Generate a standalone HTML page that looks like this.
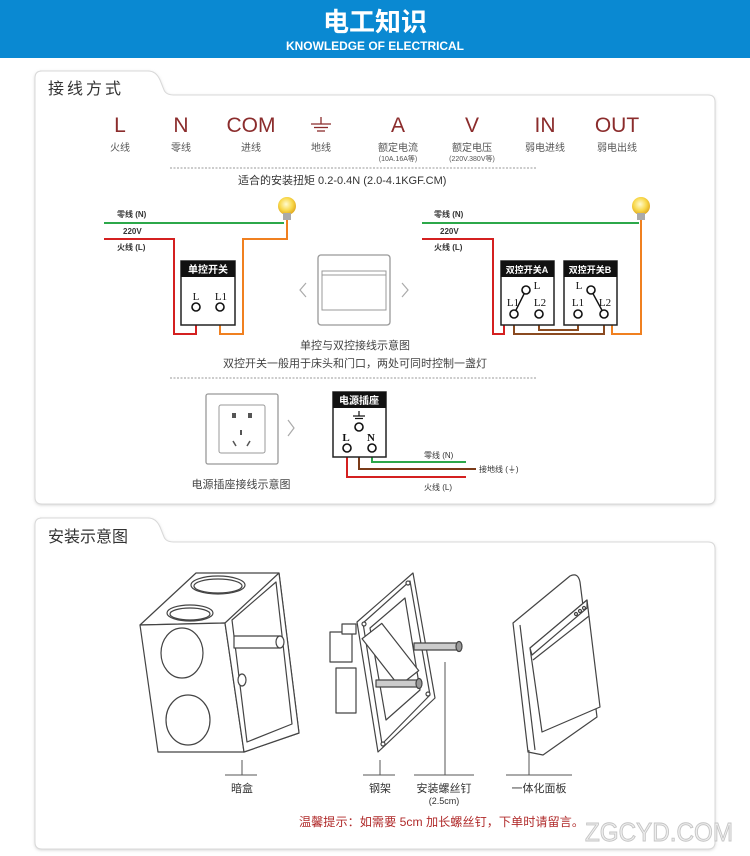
<!DOCTYPE html>
<html><head><meta charset="utf-8"><style>
html,body{margin:0;padding:0;background:#fff;}
svg{display:block;}
text{font-family:"Liberation Sans","Noto Sans CJK SC",sans-serif;}
</style></head><body>
<svg width="750" height="856" viewBox="0 0 750 856" xmlns="http://www.w3.org/2000/svg">
<defs>
<filter id="sh" x="-5%" y="-5%" width="110%" height="110%"><feGaussianBlur stdDeviation="1.5"/></filter>
<radialGradient id="bulb" cx="0.45" cy="0.4" r="0.6"><stop offset="0" stop-color="#fffbd0"/><stop offset="0.6" stop-color="#f8d84a"/><stop offset="1" stop-color="#e0a820"/></radialGradient>
</defs>
<rect x="0" y="0" width="750" height="58" fill="#0a89d2"/>
<text x="375" y="31" text-anchor="middle" font-size="26" font-weight="bold" fill="#fff">电工知识</text>
<text x="375" y="50" text-anchor="middle" font-size="12" font-weight="bold" fill="#fff" textLength="178" lengthAdjust="spacingAndGlyphs">KNOWLEDGE OF ELECTRICAL</text>

<path d="M40 71 H148 Q156 71 160 80 L164 90 Q166 95 174 95 H708 Q715 95 715 102 V497 Q715 504 708 504 H42 Q35 504 35 497 V78 Q35 71 42 71 Z" fill="#ccc" filter="url(#sh)" transform="translate(0,1)"/>
<path d="M40 71 H148 Q156 71 160 80 L164 90 Q166 95 174 95 H708 Q715 95 715 102 V497 Q715 504 708 504 H42 Q35 504 35 497 V78 Q35 71 42 71 Z" fill="#fff" stroke="#d8d8d8"/>
<text x="48" y="94" font-size="16" fill="#333" letter-spacing="3">接线方式</text>

<g fill="#8b2c2c" font-size="21" text-anchor="middle">
<text x="120" y="132">L</text><text x="181" y="132">N</text><text x="251" y="132">COM</text>
<text x="398" y="132">A</text><text x="472" y="132">V</text><text x="545" y="132">IN</text><text x="617" y="132">OUT</text>
</g>
<g stroke="#8b2c2c" stroke-width="1.3"><line x1="321" y1="117" x2="321" y2="124"/><line x1="311" y1="124" x2="331" y2="124"/><line x1="314" y1="127.5" x2="328" y2="127.5"/><line x1="317" y1="131" x2="325" y2="131"/></g>
<g fill="#555" font-size="10" text-anchor="middle">
<text x="120" y="151">火线</text><text x="181" y="151">零线</text><text x="251" y="151">进线</text><text x="321" y="151">地线</text>
<text x="398" y="151">额定电流</text><text x="472" y="151">额定电压</text><text x="545" y="151">弱电进线</text><text x="617" y="151">弱电出线</text>
<text x="398" y="161" font-size="7">(10A.16A等)</text><text x="472" y="161" font-size="7">(220V.380V等)</text>
</g>
<line x1="170" y1="168" x2="537" y2="168" stroke="#999" stroke-dasharray="2,1.5"/>
<text x="238" y="184" font-size="11" fill="#333">适合的安装扭矩 0.2-0.4N (2.0-4.1KGF.CM)</text>

<g font-size="8" fill="#333" font-weight="bold"><text x="117" y="217">零线 (N)</text><text x="123" y="234">220V</text><text x="117" y="250">火线 (L)</text></g>
<line x1="104" y1="223" x2="284" y2="223" stroke="#2ca84a" stroke-width="2"/>
<polyline points="104,239 174,239 174,334 196,334 196,311" fill="none" stroke="#d42020" stroke-width="2"/>
<polyline points="287,215 287,239 243,239 243,334 220,334 220,311" fill="none" stroke="#f08020" stroke-width="2"/>
<circle cx="287" cy="206" r="9" fill="url(#bulb)"/><rect x="283" y="213" width="8" height="7" fill="#aaa"/>
<rect x="181" y="261" width="54" height="64" fill="#fff" stroke="#222" stroke-width="1.5"/>
<rect x="181" y="261" width="54" height="16" fill="#111"/>
<text x="208" y="273" text-anchor="middle" font-size="10" fill="#fff" font-weight="bold">单控开关</text>
<g font-size="11" fill="#111" text-anchor="middle"><text x="196" y="300" style="font-family:'Liberation Serif',serif">L</text><text x="221" y="300" style="font-family:'Liberation Serif',serif">L1</text></g>
<circle cx="196" cy="307" r="4" fill="#fff" stroke="#111" stroke-width="1.6"/><circle cx="220" cy="307" r="4" fill="#fff" stroke="#111" stroke-width="1.6"/>

<rect x="318" y="255" width="72" height="70" rx="3" fill="#fff" stroke="#999" stroke-width="1.3"/>
<rect x="322" y="271" width="64" height="39" fill="#fff" stroke="#999"/>
<line x1="322" y1="275" x2="386" y2="275" stroke="#999"/>
<polyline points="306,283 300,290 306,297" fill="none" stroke="#aaa" stroke-width="1.2"/>
<polyline points="402,283 408,290 402,297" fill="none" stroke="#aaa" stroke-width="1.2"/>
<text x="355" y="349" text-anchor="middle" font-size="11" fill="#444">单控与双控接线示意图</text>
<text x="355" y="367" text-anchor="middle" font-size="11" fill="#444">双控开关一般用于床头和门口，两处可同时控制一盏灯</text>
<line x1="170" y1="378" x2="537" y2="378" stroke="#999" stroke-dasharray="2,1.5"/>

<g font-size="8" fill="#333" font-weight="bold"><text x="434" y="217">零线 (N)</text><text x="440" y="234">220V</text><text x="434" y="250">火线 (L)</text></g>
<line x1="422" y1="223" x2="639" y2="223" stroke="#2ca84a" stroke-width="2"/>
<polyline points="422,239 493,239 493,334 504,334 504,290 523,290" fill="none" stroke="#d42020" stroke-width="2"/>
<polyline points="539,318 539,330 578,330 578,318" fill="none" stroke="#8a4a20" stroke-width="2"/>
<polyline points="514,318 514,334 604,334 604,318" fill="none" stroke="#8a4a20" stroke-width="2"/>
<polyline points="594,290 612,290 612,334 641,334 641,215" fill="none" stroke="#f08020" stroke-width="2"/>
<circle cx="641" cy="206" r="9" fill="url(#bulb)"/><rect x="637" y="213" width="8" height="7" fill="#aaa"/>
<rect x="501" y="261" width="53" height="64" fill="#fff" stroke="#222" stroke-width="1.5"/>
<rect x="501" y="261" width="53" height="16" fill="#111"/>
<text x="527" y="273" text-anchor="middle" font-size="9" fill="#fff" font-weight="bold">双控开关A</text>
<rect x="564" y="261" width="53" height="64" fill="#fff" stroke="#222" stroke-width="1.5"/>
<rect x="564" y="261" width="53" height="16" fill="#111"/>
<text x="590" y="273" text-anchor="middle" font-size="9" fill="#fff" font-weight="bold">双控开关B</text>
<g font-size="11" fill="#111" text-anchor="middle">
<text x="537" y="289" style="font-family:'Liberation Serif',serif">L</text><text x="513" y="306" style="font-family:'Liberation Serif',serif">L1</text><text x="540" y="306" style="font-family:'Liberation Serif',serif">L2</text>
<text x="579" y="289" style="font-family:'Liberation Serif',serif">L</text><text x="578" y="306" style="font-family:'Liberation Serif',serif">L1</text><text x="605" y="306" style="font-family:'Liberation Serif',serif">L2</text>
</g>
<line x1="514" y1="314" x2="526" y2="290" stroke="#111" stroke-width="1.4"/>
<line x1="591" y1="290" x2="604" y2="314" stroke="#111" stroke-width="1.4"/>
<g fill="#fff" stroke="#111" stroke-width="1.6">
<circle cx="526" cy="290" r="4"/><circle cx="514" cy="314" r="4"/><circle cx="539" cy="314" r="4"/>
<circle cx="591" cy="290" r="4"/><circle cx="578" cy="314" r="4"/><circle cx="604" cy="314" r="4"/>
</g>

<rect x="206" y="394" width="72" height="70" rx="2" fill="#fff" stroke="#999" stroke-width="1.3"/>
<rect x="219" y="405" width="46" height="48" rx="2" fill="#fff" stroke="#999"/>
<g fill="#555"><rect x="232" y="413" width="4" height="5"/><rect x="248" y="413" width="4" height="5"/><rect x="240" y="430" width="2" height="5"/>
<line x1="233" y1="441" x2="236" y2="446" stroke="#555" stroke-width="1.5"/><line x1="250" y1="441" x2="247" y2="446" stroke="#555" stroke-width="1.5"/></g>
<polyline points="288,420 294,428 288,436" fill="none" stroke="#aaa" stroke-width="1.2"/>
<text x="241" y="488" text-anchor="middle" font-size="11" fill="#444">电源插座接线示意图</text>

<polyline points="372,451 372,462 466,462" fill="none" stroke="#2ca84a" stroke-width="2"/>
<polyline points="359,430 359,469 476,469" fill="none" stroke="#7a3a18" stroke-width="2"/>
<polyline points="347,451 347,477 466,477" fill="none" stroke="#d42020" stroke-width="2"/>
<rect x="333" y="392" width="53" height="65" fill="#fff" stroke="#222" stroke-width="1.5"/>
<rect x="333" y="392" width="53" height="16" fill="#111"/>
<text x="359" y="404" text-anchor="middle" font-size="10" fill="#fff" font-weight="bold">电源插座</text>
<g stroke="#111" stroke-width="1.2"><line x1="359" y1="411" x2="359" y2="416"/><line x1="353" y1="416" x2="365" y2="416"/><line x1="355" y1="418.5" x2="363" y2="418.5"/></g>
<g font-size="11" fill="#111" text-anchor="middle"><text x="346" y="441" style="font-family:'Liberation Serif',serif;font-weight:bold">L</text><text x="371" y="441" style="font-family:'Liberation Serif',serif;font-weight:bold">N</text></g>
<g fill="#fff" stroke="#111" stroke-width="1.6"><circle cx="359" cy="427" r="4"/><circle cx="347" cy="448" r="4"/><circle cx="372" cy="448" r="4"/></g>
<g font-size="8" fill="#333"><text x="424" y="458">零线 (N)</text><text x="479" y="472">接地线 (⏚)</text><text x="424" y="490">火线 (L)</text></g>

<path d="M40 518 H148 Q156 518 160 527 L164 537 Q166 542 174 542 H708 Q715 542 715 549 V842 Q715 849 708 849 H42 Q35 849 35 842 V525 Q35 518 42 518 Z" fill="#ccc" filter="url(#sh)" transform="translate(0,1)"/>
<path d="M40 518 H148 Q156 518 160 527 L164 537 Q166 542 174 542 H708 Q715 542 715 549 V842 Q715 849 708 849 H42 Q35 849 35 842 V525 Q35 518 42 518 Z" fill="#fff" stroke="#d8d8d8"/>
<text x="48" y="542" font-size="16" fill="#333">安装示意图</text>

<g fill="#fff" stroke="#444" stroke-width="1.2" stroke-linejoin="round">
<polygon points="140,625 196,573 279,573 299,733 244,752 225,623"/>
<polygon points="140,625 225,623 244,752 158,752"/>
<polygon points="225,623 279,573 299,733 244,752"/>
<polygon points="232,620 276,582 292,724 247,742" fill="#fff"/>
<ellipse cx="218" cy="585" rx="27" ry="9"/>
<ellipse cx="218" cy="586" rx="24" ry="7"/>
<ellipse cx="190" cy="613" rx="23" ry="8"/>
<ellipse cx="190" cy="614" rx="20" ry="6"/>
<ellipse cx="182" cy="653" rx="21" ry="25"/>
<ellipse cx="188" cy="720" rx="22" ry="25"/>
<rect x="234" y="636" width="46" height="12"/>
<ellipse cx="280" cy="642" rx="4" ry="6"/>
<ellipse cx="242" cy="680" rx="4" ry="6"/>
</g>
<g fill="#fff" stroke="#444" stroke-width="1.2" stroke-linejoin="round">
<rect x="330" y="632" width="22" height="30"/>
<rect x="336" y="668" width="20" height="45"/>
<rect x="342" y="624" width="14" height="10"/>
<polygon points="357,622 413,573 435,698 378,752"/>
<polygon points="363,623 410,581 430,695 382,744"/>
<polygon points="370,628 405,598 420,690 386,720"/>
<rect x="378" y="625" width="25" height="60" transform="rotate(-38 390 655)"/>
<circle cx="364" cy="624" r="2"/><circle cx="408" cy="583" r="2"/><circle cx="428" cy="694" r="2"/><circle cx="383" cy="744" r="2"/>
<rect x="414" y="643" width="44" height="7" fill="#ccc"/>
<ellipse cx="459" cy="646.5" rx="3" ry="5" fill="#999"/>
<rect x="376" y="680" width="42" height="7" fill="#ccc"/>
<ellipse cx="419" cy="683.5" rx="3" ry="5" fill="#999"/>
</g>
<g fill="#fff" stroke="#444" stroke-width="1.2" stroke-linejoin="round">
<path d="M513,623 L570,576 Q578,572 580,582 L597,717 L543,755 L528,752 Z"/>
<line x1="520" y1="625" x2="535" y2="750"/>
<polygon points="530,648 587,600 600,707 542,732"/>
<polygon points="530,648 587,600 587,608 532,655"/>
<line x1="533" y1="660" x2="589" y2="616"/>
<circle cx="576" cy="614" r="1.5"/><circle cx="580" cy="611" r="1.5"/><circle cx="584" cy="608" r="1.5"/>
</g>

<g stroke="#555" stroke-width="1" fill="none">
<line x1="242" y1="760" x2="242" y2="775"/><line x1="225" y1="775" x2="257" y2="775"/>
<line x1="380" y1="760" x2="380" y2="775"/><line x1="363" y1="775" x2="395" y2="775"/>
<line x1="445" y1="662" x2="445" y2="775"/><line x1="414" y1="775" x2="474" y2="775"/>
<line x1="529" y1="750" x2="529" y2="775"/><line x1="506" y1="775" x2="572" y2="775"/>
</g>
<g font-size="11" fill="#333" text-anchor="middle">
<text x="242" y="792">暗盒</text><text x="380" y="792">钢架</text><text x="444" y="792">安装螺丝钉</text><text x="539" y="792">一体化面板</text>
<text x="444" y="804" font-size="9">(2.5cm)</text>
</g>
<text x="299" y="826" font-size="12" fill="#b02a2a" textLength="285" lengthAdjust="spacingAndGlyphs">温馨提示：如需要 5cm 加长螺丝钉，下单时请留言。</text>
<text x="585" y="841" font-size="26" fill="#eeeeee" stroke="#c4c4c4" stroke-width="0.9" textLength="148" lengthAdjust="spacingAndGlyphs">ZGCYD.COM</text>
</svg>
</body></html>
